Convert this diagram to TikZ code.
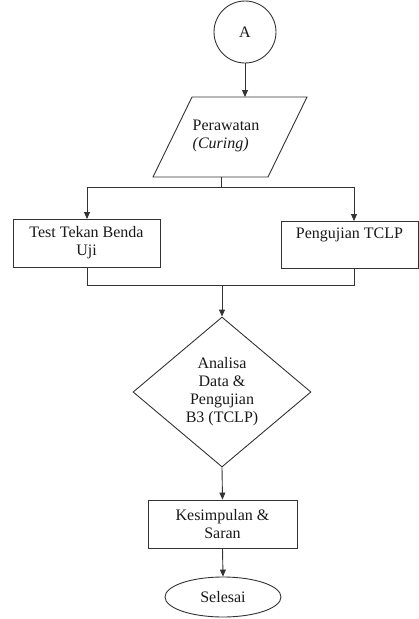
\documentclass[tikz,border=0pt]{standalone}
\usepackage{fontspec}
\setmainfont{Liberation Serif}
\usetikzlibrary{arrows.meta,shapes.geometric}
\begin{document}
\begin{tikzpicture}[x=1pt,y=-1pt,
  every node/.style={font=\fontsize{16}{18}\selectfont, text=black!90},
  ln/.style={draw=black!80, line width=0.9pt},
  arr/.style={ln, -{Triangle[length=7pt,width=6pt]}},
  boxn/.style={ln, rectangle, align=center, inner sep=0pt}
]
\useasboundingbox (0,0) rectangle (419,619);
% start connector
\node[ln, circle, minimum size=62pt, inner sep=0pt] (A) at (245,32) {A};
% parallelogram
\coordinate (p1) at (192,97);
\coordinate (p2) at (307,97);
\coordinate (p3) at (268,177);
\coordinate (p4) at (153,177);
\draw[ln] (p1) -- (p2) -- (p3) -- (p4) -- cycle;
\coordinate (ptop) at (245,97);
\coordinate (pbot) at (221,177);
\node[align=left, inner sep=0pt] (cur) at (226,136) {Perawatan\\\textit{(Curing)}};
% boxes
\node[boxn, minimum width=147pt, minimum height=48pt] (tb) at (86.5,243) {Test Tekan Benda\\Uji};
\node[boxn, minimum width=137pt, minimum height=47pt] (tc) at (349.5,244.5) {Pengujian TCLP\\\strut};
\node[ln, diamond, minimum width=178pt, minimum height=150pt, inner sep=0pt, align=center] (an) at (222,392) {Analisa\\Data \&\\Pengujian\\B3 (TCLP)};
\node[boxn, minimum width=149pt, minimum height=48pt] (ks) at (222.5,524) {Kesimpulan \&\\Saran};
\node[ln, ellipse, minimum width=116pt, minimum height=40pt, inner sep=0pt] (se) at (223,597) {Selesai};
% split coordinates
\coordinate (s0) at (221,187);
\coordinate (sl) at (87,187);
\coordinate (sr) at (354,187);
\coordinate (tbtop) at (87,219);
\coordinate (tctop) at (354,221);
\coordinate (tbbot) at (87,267);
\coordinate (tcbot) at (354,268);
\coordinate (ml) at (87,285);
\coordinate (mr) at (354,285);
\coordinate (mc) at (222,285);
% connectors
\draw[arr] (A) -- (ptop);
\draw[ln] (pbot) -- (s0);
\draw[ln] (sl) -- (sr);
\draw[arr] (sl) -- (tbtop);
\draw[arr] (sr) -- (tctop);
\draw[ln] (tbbot) -- (ml) -- (mr) -- (tcbot);
\draw[arr] (mc) -- (an.north);
\draw[arr] (an.south) -- (ks.north);
\draw[arr] (ks.south) -- (se.north);
\end{tikzpicture}
\end{document}
